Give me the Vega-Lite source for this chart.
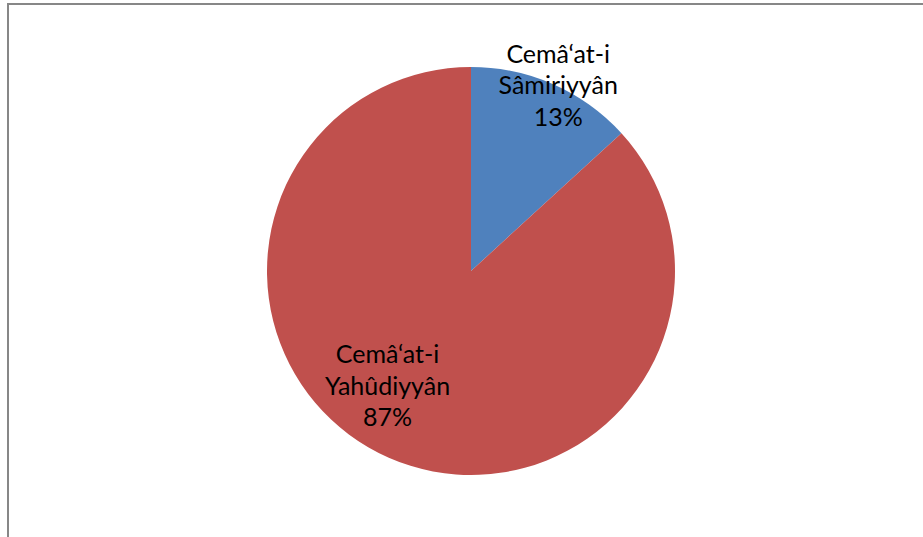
{
  "$schema": "https://vega.github.io/schema/vega-lite/v6.json",
  "width": 926,
  "height": 534,
  "padding": {"left": 8, "top": 4, "right": 0, "bottom": 0},
  "autosize": {"type": "none"},
  "background": "white",
  "config": {"view": {"stroke": null}, "text": {"font": "Lato"}},
  "data": {"values": [
    {"group": "Cemâ‘at-i Sâmiriyyân", "share": 13.2, "label": "Cemâ‘at-i\nSâmiriyyân\n13%"},
    {"group": "Cemâ‘at-i Yahûdiyyân", "share": 86.8, "label": "Cemâ‘at-i\nYahûdiyyân\n87%"}
  ]},
  "layer": [
    {
      "mark": {"type": "rect", "fill": null, "stroke": "#878787", "strokeWidth": 2},
      "encoding": {
        "x": {"value": 0},
        "x2": {"value": "width"},
        "y": {"value": 0},
        "y2": {"value": "height"}
      }
    },
    {
      "mark": {"type": "arc", "outerRadius": 204},
      "encoding": {
        "theta": {"field": "share", "type": "quantitative", "stack": true},
        "color": {"field": "group", "type": "nominal", "scale": {"domain": ["Cemâ‘at-i Sâmiriyyân", "Cemâ‘at-i Yahûdiyyân"], "range": ["#4F81BD", "#C0504D"]}, "legend": null}
      }
    },
    {
      "mark": {"type": "text", "radius": 204, "dx": 5, "dy": -29.5, "fontSize": 25, "lineHeight": 31.5, "lineBreak": "\n", "align": "center", "baseline": "middle", "fill": "black"},
      "encoding": {
        "theta": {"field": "share", "type": "quantitative", "stack": true},
        "detail": {"field": "group", "type": "nominal"},
        "text": {"condition": {"test": "datum.share < 50", "field": "label"}, "value": ""}
      }
    },
    {
      "mark": {"type": "text", "radius": 140, "dx": -27, "dy": -44, "fontSize": 25, "lineHeight": 31.5, "lineBreak": "\n", "align": "center", "baseline": "middle", "fill": "black"},
      "encoding": {
        "theta": {"field": "share", "type": "quantitative", "stack": true},
        "detail": {"field": "group", "type": "nominal"},
        "text": {"condition": {"test": "datum.share > 50", "field": "label"}, "value": ""}
      }
    }
  ]
}
